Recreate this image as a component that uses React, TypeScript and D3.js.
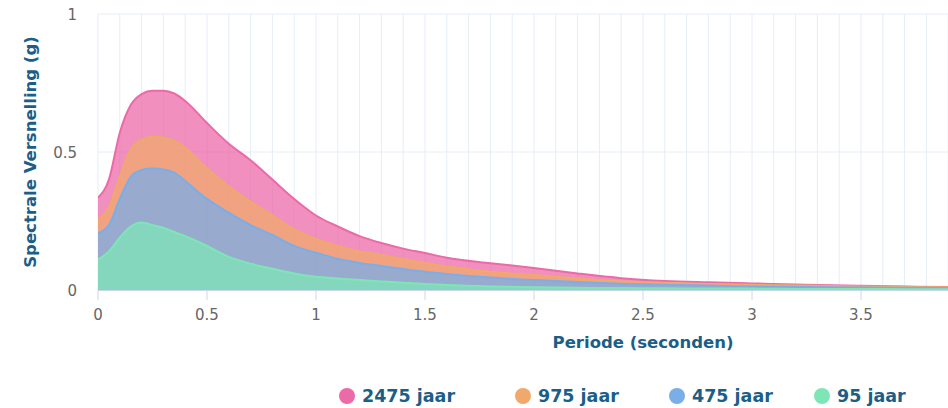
import React from "react";
import * as d3 from "d3";

const periods = [0, 0.05, 0.1, 0.15, 0.2, 0.25, 0.3, 0.35, 0.4, 0.5, 0.6, 0.7, 0.8, 0.9, 1.0, 1.1, 1.2, 1.3, 1.4, 1.5, 1.6, 1.8, 2.0, 2.2, 2.4, 2.6, 2.8, 3.0, 3.25, 3.5, 3.75, 4.0];
const s2475 = [0.335, 0.4, 0.57, 0.67, 0.71, 0.722, 0.722, 0.712, 0.685, 0.605, 0.53, 0.47, 0.4, 0.33, 0.27, 0.23, 0.195, 0.17, 0.15, 0.134, 0.117, 0.097, 0.08, 0.06, 0.043, 0.033, 0.028, 0.024, 0.019, 0.015, 0.012, 0.01];
const s975 = [0.255, 0.3, 0.41, 0.51, 0.545, 0.555, 0.553, 0.54, 0.515, 0.44, 0.375, 0.32, 0.27, 0.22, 0.185, 0.16, 0.14, 0.127, 0.112, 0.098, 0.085, 0.066, 0.054, 0.042, 0.032, 0.026, 0.022, 0.019, 0.016, 0.013, 0.011, 0.009];
const s475 = [0.205, 0.235, 0.33, 0.41, 0.435, 0.44, 0.437, 0.425, 0.395, 0.33, 0.28, 0.235, 0.2, 0.16, 0.135, 0.113, 0.098, 0.087, 0.076, 0.066, 0.058, 0.045, 0.036, 0.029, 0.023, 0.019, 0.016, 0.013, 0.011, 0.009, 0.008, 0.007];
const s95 = [0.11, 0.14, 0.19, 0.23, 0.245, 0.235, 0.225, 0.21, 0.195, 0.16, 0.12, 0.095, 0.077, 0.06, 0.048, 0.042, 0.036, 0.031, 0.026, 0.022, 0.018, 0.013, 0.01, 0.008, 0.007, 0.006, 0.005, 0.005, 0.004, 0.004, 0.003, 0.003];

const seriesNames = ["2475 jaar", "975 jaar", "475 jaar", "95 jaar"];
const seriesValues = [s2475, s975, s475, s95];
const seriesColors = ["#ec6aa8", "#f0a86c", "#7aaee8", "#7ee6b6"];
const xTicks = [0, 0.5, 1, 1.5, 2, 2.5, 3, 3.5];
const yTicks = [0, 0.5, 1];
const xTitle = "Periode (seconden)";
const yTitle = "Spectrale Versnelling (g)";

const W = 948, H = 408;
const L = 98, T = 14, B = 290;
const xMaxVal = 3.96;

export default function App() {
  const x = d3.scaleLinear().domain([0, 1]).range([L, L + 218]);
  const y = d3.scaleLinear().domain([0, 1]).range([B, T]);
  const R = x(xMaxVal);
  const minor = d3.range(0, 40).map((i) => i / 10);
  const area = d3.area<number>()
    .x((_, i) => x(periods[i]))
    .y0(y(0))
    .y1((d) => y(d))
    .curve(d3.curveMonotoneX);
  const line = d3.line<number>()
    .x((_, i) => x(periods[i]))
    .y((d) => y(d))
    .curve(d3.curveMonotoneX);
  const legendX = [347, 523, 677, 822];
  const font = "'DejaVu Sans', sans-serif";
  return (
    <svg width={W} height={H} style={{ position: "absolute", left: 0, top: 0, background: "#fff" }} fontFamily={font}>
      <defs>
        <clipPath id="plot">
          <rect x={L} y={T - 2} width={R - L} height={B - T + 2} />
        </clipPath>
      </defs>
      {minor.map((v) => (
        <line key={"g" + v} x1={x(v)} x2={x(v)} y1={T} y2={B} stroke="#e6edf6" strokeWidth={1} />
      ))}
      {yTicks.map((v) => (
        <line key={"h" + v} x1={L} x2={W} y1={y(v)} y2={y(v)} stroke="#e6edf6" strokeWidth={1} />
      ))}
      <g clipPath="url(#plot)">
        {seriesValues.map((s, i) => (
          <g key={i}>
            <path d={area(s) || ""} fill={seriesColors[i]} fillOpacity={0.75} />
            <path d={line(s) || ""} fill="none" stroke={seriesColors[i]} strokeWidth={2} />
          </g>
        ))}
      </g>
      <line x1={L} x2={W} y1={B + 0.5} y2={B + 0.5} stroke="#ccd6eb" strokeWidth={1} />
      {xTicks.map((v) => (
        <g key={"x" + v}>
          <line x1={x(v)} x2={x(v)} y1={B} y2={B + 10} stroke="#ccd6eb" strokeWidth={1} />
          <text x={x(v)} y={B + 30} textAnchor="middle" fontSize={15} fill="#666">{String(v)}</text>
        </g>
      ))}
      {yTicks.map((v) => (
        <text key={"y" + v} x={77} y={y(v) + 6} textAnchor="end" fontSize={15} fill="#666">{String(v)}</text>
      ))}
      <text x={643} y={348} textAnchor="middle" fontSize={16.5} fontWeight="bold" fill="#1b5e88">{xTitle}</text>
      <text transform={`translate(36,${(T + B) / 2}) rotate(-90)`} textAnchor="middle" fontSize={16.5} fontWeight="bold" fill="#1b5e88">{yTitle}</text>
      {seriesNames.map((n, i) => (
        <g key={n}>
          <circle cx={legendX[i]} cy={396} r={8} fill={seriesColors[i]} />
          <text x={legendX[i] + 15} y={402} fontSize={17.5} fontWeight="bold" fill="#1b5e88">{n}</text>
        </g>
      ))}
    </svg>
  );
}
